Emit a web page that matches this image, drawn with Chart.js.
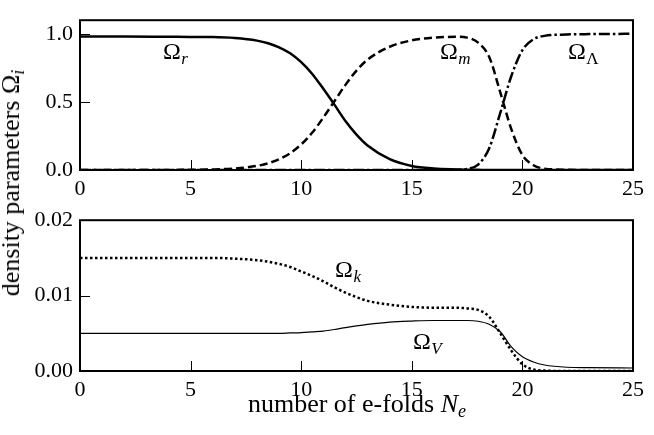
<!DOCTYPE html>
<html>
<head>
<meta charset="utf-8">
<script src="https://cdn.jsdelivr.net/npm/chart.js@4.4.1/dist/chart.umd.min.js"></script>
<style>
  body { margin: 0; background: #fff; }
  #wrap { position: relative; width: 654px; height: 435px; font-family: "Liberation Serif", serif; color: #000; }
  #c1 { position: absolute; left: 0; top: 0; }
  #c2 { position: absolute; left: 0; top: 200px; }
  .ytitle { position: absolute; left: 11px; top: 183px; transform: translate(-50%, -50%) rotate(-90deg);
            font-size: 26px; line-height: 26px; white-space: nowrap; }
  .xtitle { position: absolute; left: 357px; top: 391px; transform: translateX(-50%);
            font-size: 26px; line-height: 26px; white-space: nowrap; }
  sub { font-size: 18px; vertical-align: -5px; line-height: 0; }
</style>
</head>
<body>
<div id="wrap">
  <canvas id="c1" width="654" height="200"></canvas>
  <canvas id="c2" width="654" height="235"></canvas>
  <div class="ytitle">density parameters Ω<sub><i>i</i></sub></div>
  <div class="xtitle">number of e-folds <i>N</i><sub><i>e</i></sub></div>
</div>
<script>
// número de e-folds (eje x compartido)
const efolds = [0, 2, 4, 5, 6, 7, 8, 8.5, 9, 9.5, 10, 10.5, 11, 11.5, 12, 12.5, 13, 14, 15, 16,
                17, 17.5, 18, 18.5, 19, 19.5, 20, 20.5, 21, 22, 23, 25];

// panel superior
const omegaR = [0.98, 0.98, 0.978, 0.977, 0.976, 0.969, 0.95, 0.931, 0.901, 0.857, 0.792, 0.705,
                0.596, 0.48, 0.36, 0.26, 0.18, 0.08, 0.03, 0.011, 0.004, 0.002, 0.001, 0,
                0, 0, 0, 0, 0, 0, 0, 0];
const omegaM = [0, 0, 0, 0.002, 0.004, 0.011, 0.03, 0.049, 0.079, 0.123, 0.188, 0.275,
                0.385, 0.505, 0.625, 0.73, 0.81, 0.905, 0.952, 0.972, 0.978, 0.972, 0.935, 0.83,
                0.57, 0.30, 0.11, 0.035, 0.01, 0.002, 0, 0];
const omegaL = [0, 0, 0, 0, 0, 0, 0, 0, 0, 0, 0, 0, 0, 0, 0, 0, 0, 0, 0, 0,
                0.002, 0.008, 0.04, 0.16, 0.42, 0.69, 0.88, 0.96, 0.985, 0.995, 0.998, 1.0];

// panel inferior
const omegaK = [0.015, 0.015, 0.015, 0.015, 0.015, 0.0149, 0.0147, 0.0145, 0.0142, 0.0138, 0.0132,
                0.0126, 0.0119, 0.0111, 0.0104, 0.0098, 0.0093, 0.0088, 0.0085, 0.0084, 0.0084,
                0.0083, 0.0081, 0.0072, 0.005, 0.0027, 0.0009, 0.0002, 0.00005, 0, 0, 0];
const omegaV = [0.005, 0.005, 0.005, 0.005, 0.005, 0.005, 0.005, 0.005, 0.005, 0.00505, 0.0051,
                0.0052, 0.0053, 0.0055, 0.00575, 0.00598, 0.00618, 0.00648, 0.00662, 0.0067, 0.0067,
                0.0067, 0.0066, 0.0062, 0.0052, 0.0032, 0.0019, 0.0012, 0.0008, 0.0005, 0.00045,
                0.0004];

const xTicks = [0, 5, 10, 15, 20, 25];

// etiquetas de cada curva (posición en unidades de datos)
const topLabels = [
  { n: 3.75, v: 0.815, sub: 'r', italic: true },
  { n: 16.27, v: 0.815, sub: 'm', italic: true },
  { n: 22.06, v: 0.815, sub: 'Λ', italic: false }
];
const bottomLabels = [
  { n: 11.53, v: 0.01248, sub: 'k', italic: true },
  { n: 15.05, v: 0.00292, sub: 'V', italic: true }
];

const FONT = 'Liberation Serif';

function serie(ys, width, dash) {
  return {
    data: efolds.map((n, i) => ({ x: n, y: ys[i] })),
    borderColor: '#000',
    borderWidth: width,
    borderDash: dash,
    pointRadius: 0,
    fill: false,
    cubicInterpolationMode: 'monotone'
  };
}

// marco, ticks hacia adentro y etiquetas Ω
const marco = {
  id: 'marco',
  afterDraw(chart, args, opts) {
    const { ctx, chartArea: a, scales } = chart;
    ctx.save();
    ctx.strokeStyle = '#000';
    ctx.lineWidth = 1;
    scales.x.ticks.forEach(t => {
      const px = Math.round(scales.x.getPixelForValue(t.value)) + 0.5;
      ctx.beginPath(); ctx.moveTo(px, a.bottom); ctx.lineTo(px, a.bottom - 10); ctx.stroke();
    });
    scales.y.ticks.forEach(t => {
      const py = Math.round(scales.y.getPixelForValue(t.value)) + 0.5;
      ctx.beginPath(); ctx.moveTo(a.left, py); ctx.lineTo(a.left + 10, py); ctx.stroke();
    });
    ctx.lineWidth = 2;
    ctx.strokeRect(a.left, a.top, a.right - a.left, a.bottom - a.top);

    ctx.fillStyle = '#000';
    ctx.textBaseline = 'alphabetic';
    ctx.textAlign = 'left';
    (opts.labels || []).forEach(l => {
      const x = scales.x.getPixelForValue(l.n);
      const y = scales.y.getPixelForValue(l.v);
      ctx.font = '24px "' + FONT + '"';
      ctx.fillText('Ω', x, y);
      const w = ctx.measureText('Ω').width;
      ctx.font = (l.italic ? 'italic ' : '') + '17px "' + FONT + '"';
      ctx.fillText(l.sub, x + w + 0.5, y + 5);
    });
    ctx.restore();
  }
};

function config(datasets, yOpts, padTop, xHeight, labels) {
  return {
    type: 'line',
    data: { datasets: datasets },
    plugins: [marco],
    options: {
      responsive: false,
      animation: false,
      layout: { padding: { top: padTop, right: 21, left: 0, bottom: 0 } },
      plugins: {
        legend: { display: false },
        tooltip: { enabled: false },
        marco: { labels: labels }
      },
      scales: {
        x: {
          type: 'linear', min: 0, max: 25,
          grid: { display: false, drawTicks: false }, border: { display: false },
          afterBuildTicks: s => { s.ticks = xTicks.map(v => ({ value: v })); },
          afterFit: s => { s.height = xHeight; },
          ticks: { padding: 6, color: '#000', font: { family: FONT, size: 22 } }
        },
        y: Object.assign({
          grid: { display: false, drawTicks: false }, border: { display: false },
          afterFit: s => { s.width = 80; }
        }, yOpts)
      }
    }
  };
}

new Chart(document.getElementById('c1'), config(
  [serie(omegaR, 2.5, []), serie(omegaM, 2.5, [8, 4]), serie(omegaL, 2.5, [11, 3, 2.5, 3])],
  {
    min: 0, max: 1.1,
    ticks: { stepSize: 0.5, includeBounds: false, padding: 7, color: '#000',
             font: { family: FONT, size: 22 }, callback: v => v.toFixed(1) }
  },
  16, 30, topLabels
));

new Chart(document.getElementById('c2'), config(
  [serie(omegaK, 2.5, [2.5, 2.5]), serie(omegaV, 1.2, [])],
  {
    min: 0, max: 0.02,
    ticks: { stepSize: 0.01, includeBounds: false, padding: 7, color: '#000',
             font: { family: FONT, size: 22 }, callback: v => v.toFixed(2) }
  },
  17, 64, bottomLabels
));
</script>
</body>
</html>
